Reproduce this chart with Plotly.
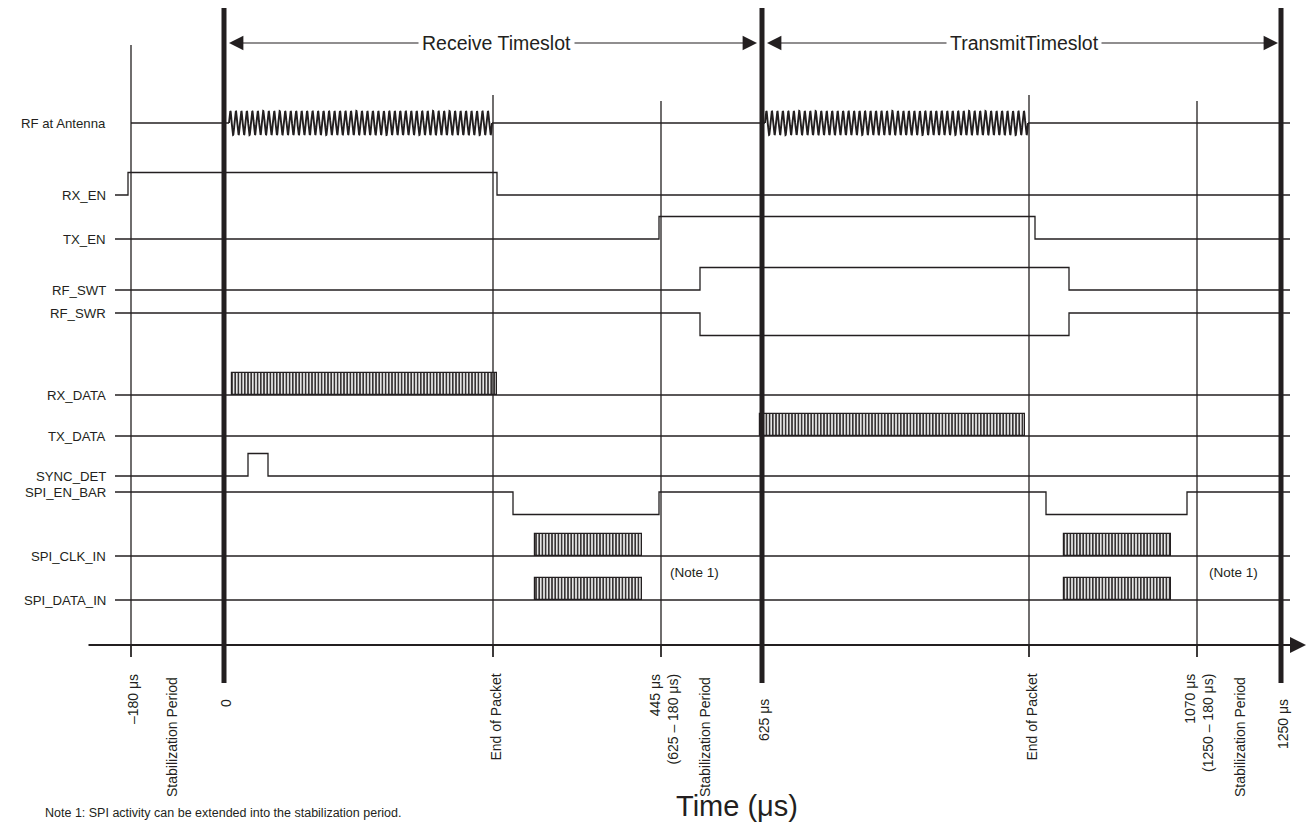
import numpy as np
import plotly.graph_objects as go

# ---------------- data (diagram units along the time axis) ----------------
signal_names = ["RF at Antenna", "RX_EN", "TX_EN", "RF_SWT", "RF_SWR", "RX_DATA",
                "TX_DATA", "SYNC_DET", "SPI_EN_BAR", "SPI_CLK_IN", "SPI_DATA_IN"]

# time markers on the (schematic, not to scale) time axis
marker_times = [131, 224, 493, 661, 762, 1029, 1197, 1281]
marker_labels = ["–180 μs", "0", "End of Packet", "445 μs<br>(625 – 180 μs)", "625 μs",
                 "End of Packet", "1070 μs<br>(1250 – 180 μs)", "1250 μs"]
marker_major = [False, True, False, False, True, False, False, True]
stab_label_times = [172, 705, 1240]

# logic signals: transition times and logic levels
rx_en_t = [115, 128, 497, 1290];            rx_en_v = [0, 1, 0, 0]
tx_en_t = [115, 659, 1035, 1290];           tx_en_v = [0, 1, 0, 0]
rf_swt_t = [115, 700, 1069, 1290];          rf_swt_v = [0, 1, 0, 0]
rf_swr_t = [115, 700, 1069, 1290];          rf_swr_v = [1, 0, 1, 1]
sync_det_t = [115, 248, 268, 1290];         sync_det_v = [0, 1, 0, 0]
spi_en_t = [115, 513, 659, 1046, 1187, 1290]; spi_en_v = [1, 0, 1, 0, 1, 1]

# bursts (start, end)
rf_bursts = [(229, 492), (765, 1028)]
rx_data_bursts = [(232, 497)]
tx_data_bursts = [(760, 1025)]
spi_clk_bursts = [(535, 642), (1064, 1171)]
spi_data_bursts = [(535, 642), (1064, 1171)]

# ---------------- layout constants (pixel-like units) ----------------
W, H = 1307, 823
INK = "#231f20"
FONT = "Liberation Sans, Arial, Helvetica, sans-serif"
X0, X1 = 115, 1290
row_y = {"RF at Antenna": 123, "RX_EN": 195, "TX_EN": 239, "RF_SWT": 290, "RF_SWR": 313,
         "RX_DATA": 395, "TX_DATA": 436, "SYNC_DET": 476, "SPI_EN_BAR": 492,
         "SPI_CLK_IN": 556, "SPI_DATA_IN": 600}
AMP = 22.5
AXIS_Y = 645

fig = go.Figure()


def add_line(xs, ys, width=1.3, color=INK, shape="linear"):
    fig.add_trace(go.Scatter(x=xs, y=ys, mode="lines", line=dict(color=color, width=width, shape=shape),
                             hoverinfo="skip", showlegend=False, cliponaxis=False))


def logic(name, ts, vs, low_y, high_y):
    ys = [high_y if v else low_y for v in vs]
    add_line(ts, ys, shape="hv")


# vertical time markers
for t, major in zip(marker_times, marker_major):
    if major:
        add_line([t, t], [8, 683], width=5)
    else:
        top = 45 if t == marker_times[0] else (95 if t in (493, 1029) else 101)
        add_line([t, t], [top, 657], width=1.3)

# RF at antenna: baseline with gaps + sine bursts
ry = row_y["RF at Antenna"]
bx, by = [131], [ry]
for s, e in rf_bursts:
    bx += [s, None, e]
    by += [ry, None, ry]
bx.append(X1); by.append(ry)
add_line(bx, by)
for s, e in rf_bursts:
    xx = np.linspace(s, e, 2000)
    cycles = 48
    yy = ry - 12 * np.sin(2 * np.pi * cycles * (xx - s) / (e - s))
    add_line(xx, yy, width=1.9)

# logic waveforms
logic("RX_EN", rx_en_t, rx_en_v, row_y["RX_EN"], row_y["RX_EN"] - AMP)
logic("TX_EN", tx_en_t, tx_en_v, row_y["TX_EN"], row_y["TX_EN"] - AMP)
logic("RF_SWT", rf_swt_t, rf_swt_v, row_y["RF_SWT"], row_y["RF_SWT"] - AMP)
logic("RF_SWR", rf_swr_t, rf_swr_v, row_y["RF_SWR"] + AMP, row_y["RF_SWR"])
logic("SYNC_DET", sync_det_t, sync_det_v, row_y["SYNC_DET"], row_y["SYNC_DET"] - AMP)
logic("SPI_EN_BAR", spi_en_t, spi_en_v, row_y["SPI_EN_BAR"] + AMP, row_y["SPI_EN_BAR"])

# data rows: baseline + hatched bursts drawn as patterned bars
for name, bursts in [("RX_DATA", rx_data_bursts), ("TX_DATA", tx_data_bursts),
                     ("SPI_CLK_IN", spi_clk_bursts), ("SPI_DATA_IN", spi_data_bursts)]:
    y = row_y[name]
    add_line([X0, X1], [y, y])
    fig.add_trace(go.Bar(
        orientation="h",
        y=[y - AMP / 2] * len(bursts),
        x=[e - s for s, e in bursts],
        base=[s for s, e in bursts],
        width=AMP,
        marker=dict(color="white", line=dict(color=INK, width=1.2),
                    pattern=dict(shape="|", size=3.2, solidity=0.45, fgcolor=INK, bgcolor="#e6e6e6",
                                 fillmode="replace")),
        hoverinfo="skip", showlegend=False))

# time axis with arrow
fig.add_annotation(x=1306, y=AXIS_Y, ax=87, ay=AXIS_Y, xref="x", yref="y", axref="x", ayref="y",
                   text="", showarrow=True, arrowhead=2, arrowsize=1.6, arrowwidth=2, arrowcolor=INK,
                   standoff=0, startstandoff=0)
for t, major in zip(marker_times, marker_major):
    if not major:
        add_line([t, t], [AXIS_Y, 657], width=1.3)

annotations = []
# left labels
for name in signal_names:
    annotations.append(dict(x=108, y=row_y[name], text=name, xanchor="right", yanchor="middle",
                            showarrow=False, font=dict(size=13.2, color=INK, family=FONT)))

# timeslot arrows
for tip, tail in [(229, 420), (757, 573), (767, 948), (1278, 1100)]:
    annotations.append(dict(x=tip, y=43, ax=tail, ay=43, axref="x", ayref="y", text="",
                            showarrow=True, arrowhead=2, arrowsize=2.4, arrowwidth=1.2,
                            arrowcolor=INK, standoff=0, startstandoff=0))
annotations.append(dict(x=496, y=43, text="Receive Timeslot", showarrow=False,
                        font=dict(size=19.5, color=INK, family=FONT)))
annotations.append(dict(x=1024, y=43, text="TransmitTimeslot", showarrow=False,
                        font=dict(size=19.5, color=INK, family=FONT)))

# bottom rotated labels
for t, lab, major in zip(marker_times, marker_labels, marker_major):
    top = 697 if major else 672
    annotations.append(dict(x=t + 2, y=top, text=lab, textangle=-90, xanchor="center", yanchor="top",
                            align="right", showarrow=False, font=dict(size=14, color=INK, family=FONT)))
for t in stab_label_times:
    annotations.append(dict(x=t, y=675, text="Stabilization Period", textangle=-90, xanchor="center",
                            yanchor="top", showarrow=False, font=dict(size=14, color=INK, family=FONT)))

# notes
for x in [694, 1233]:
    annotations.append(dict(x=x, y=572, text="(Note 1)", showarrow=False,
                            font=dict(size=13.5, color=INK, family=FONT)))
annotations.append(dict(x=737, y=806, text="Time (μs)", showarrow=False,
                        font=dict(size=29, color=INK, family=FONT)))
annotations.append(dict(x=43, y=813, text="Note 1: SPI activity can be extended into the stabilization period.",
                        xanchor="left", yanchor="middle", showarrow=False,
                        font=dict(size=12.5, color=INK, family=FONT)))

for a in annotations:
    a.setdefault("xref", "x")
    a.setdefault("yref", "y")
    fig.add_annotation(**a)

fig.update_layout(
    width=W, height=H, margin=dict(l=0, r=0, t=0, b=0),
    paper_bgcolor="white", plot_bgcolor="white",
    xaxis=dict(range=[0, W], visible=False, fixedrange=True),
    yaxis=dict(range=[H, 0], visible=False, fixedrange=True),
    bargap=0, barmode="overlay", showlegend=False,
)

fig.write_html("out.html", config={"displayModeBar": False, "responsive": False},
               post_script="document.body.style.margin='0';document.body.style.overflow='hidden';")
